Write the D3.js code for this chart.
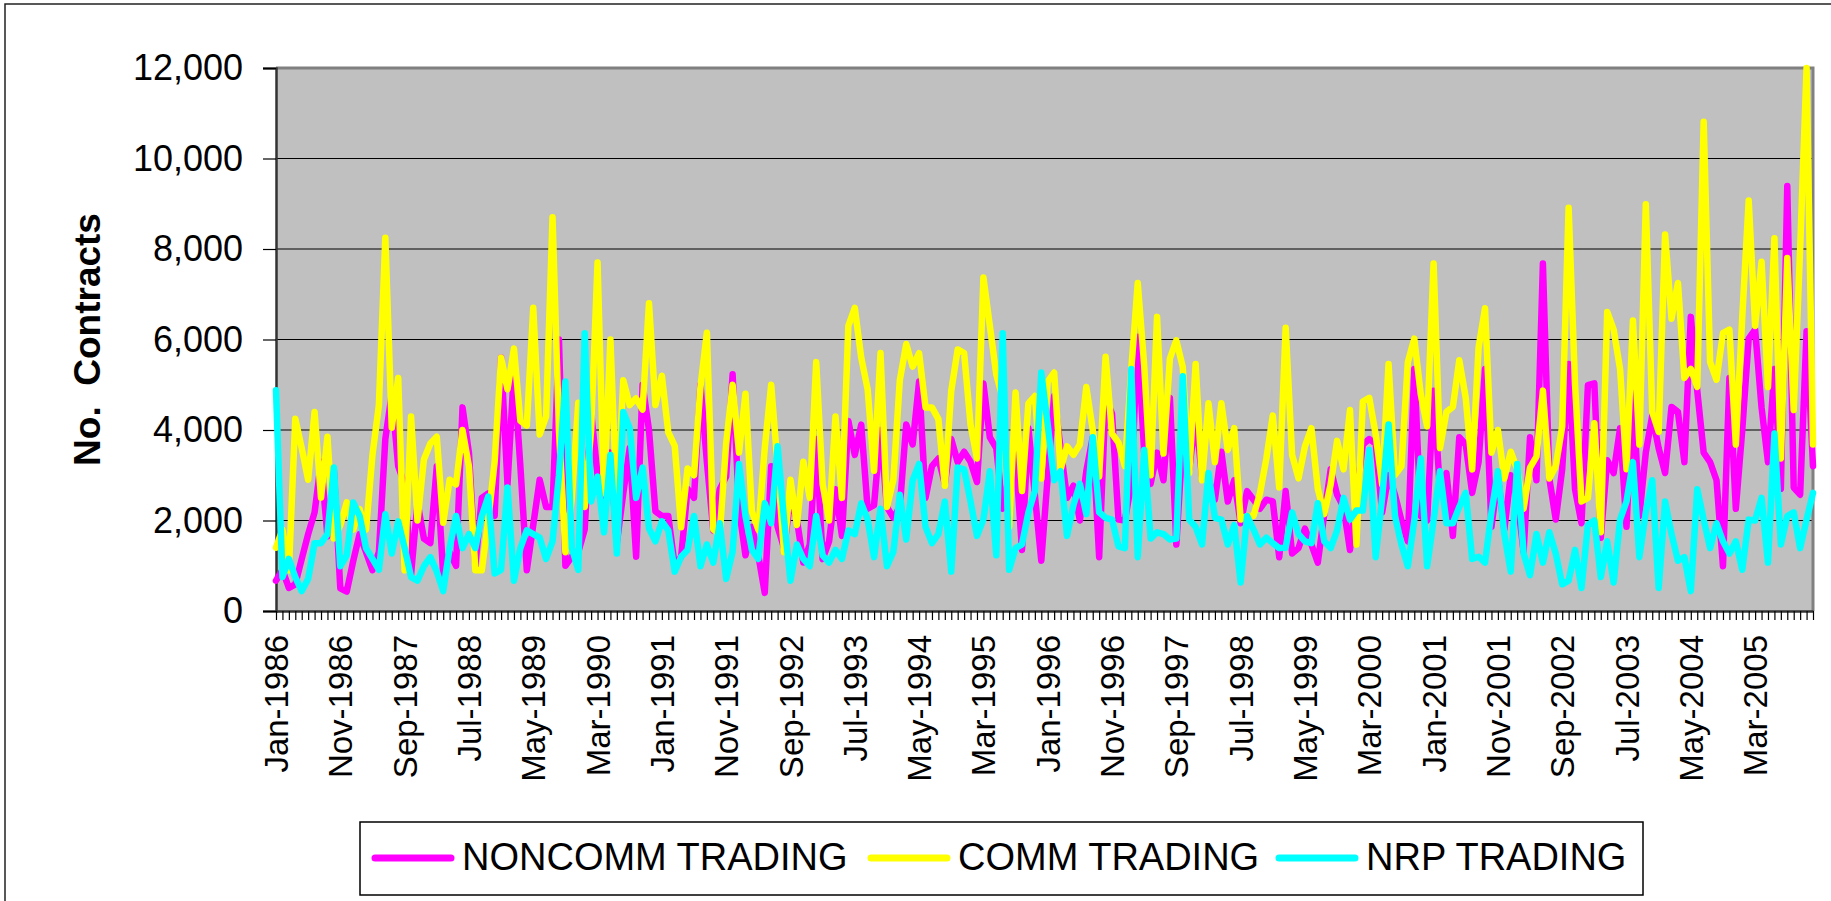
<!DOCTYPE html>
<html>
<head>
<meta charset="utf-8">
<script src="https://cdn.jsdelivr.net/npm/d3@7"></script>
<style>
  body { margin: 0; background: #fff; }
  svg { display: block; font-family: "Liberation Sans", Arial, sans-serif; }
</style>
</head>
<body>
<svg id="chart" width="1831" height="901"></svg>
<script>
// monthly categories, Jan-1986 .. Dec-2005
var months = d3.timeMonths(new Date(1986, 0, 1), new Date(2006, 0, 1));

var tickLabels = ["Jan-1986", "Nov-1986", "Sep-1987", "Jul-1988", "May-1989", "Mar-1990",
    "Jan-1991", "Nov-1991", "Sep-1992", "Jul-1993", "May-1994", "Mar-1995", "Jan-1996",
    "Nov-1996", "Sep-1997", "Jul-1998", "May-1999", "Mar-2000", "Jan-2001", "Nov-2001",
    "Sep-2002", "Jul-2003", "May-2004", "Mar-2005"];

var yTicks = [0, 2000, 4000, 6000, 8000, 10000, 12000];

var seriesNames = ["NONCOMM TRADING", "COMM TRADING", "NRP TRADING"];
var seriesColors = ["#ff00ff", "#ffff00", "#00ffff"];

var noncomm = [
    670, 910, 510, 590, 1150, 1700, 2180, 3300, 1650, 3100, 500, 430, 1100, 1700, 1300, 900, 1300, 3800, 4800, 3200,
    2800, 800, 2400, 1600, 1500, 3200, 800, 1300, 1000, 4500, 3500, 1000, 2500, 2600,
    2100, 5600, 2800, 5300, 3200, 900, 1900, 2900, 2300, 2300, 6000, 1000, 1200, 1300, 1800, 4400, 3000, 2500, 3500, 1500,
    2600, 3600, 1200, 5000, 4000, 2200, 2100, 2100, 1000, 1200, 2700, 2500, 5000, 3300,
    1780, 2690, 2970, 5230, 2260, 1230, 1860, 1230, 400, 3200, 1860, 1390, 2500, 2020, 1070, 1470, 3800, 1150, 1540, 2690,
    1660, 4200, 3450, 4120, 2260, 2340, 4000, 2300, 2060, 2300, 4120, 3680, 5070, 2500,
    3200, 3370, 2810, 3800, 3290, 3520, 3300, 2850, 5030, 3840, 3600, 2260, 3000, 3480, 1350, 4040, 2570, 1110, 2970, 4750,
    3600, 2500, 2770, 2000, 3090, 3840, 1190, 4710, 4360, 2020, 2000, 2810, 6060, 3500,
    2810, 3500, 2890, 4710, 1470, 3800, 3130, 4300, 2970, 2900, 2460, 3520, 2420, 2890, 1940, 2650, 2460, 2260, 2460, 2420,
    1190, 2650, 1270, 1390, 1820, 1470, 1070, 2140, 3130, 2570, 2300, 1350, 2500, 3680, 3800,
    3700, 2180, 3000, 2570, 2000, 1540, 5350, 2100, 2000, 4870, 2650, 3050, 1660, 3840, 3680, 2610, 3290, 5350, 1860, 2970,
    1800, 3000, 2500, 1310, 3840, 2890, 7680, 2930, 2020, 3130, 5460, 2690, 1940, 4990,
    5030, 1620, 3330, 3050, 4040, 1860, 4910, 2100, 3500, 4320, 3600, 3050, 4510, 4400, 3290, 6500, 4870, 3500, 3290, 2890,
    990, 5150, 2260, 4000, 6020, 6220, 4500, 3290, 5350, 2700, 9390, 2730, 2570, 6180, 3200
];

var comm = [
    1400, 1800, 900, 4250, 3600, 2900, 4400, 2500, 3850, 1600, 1900, 2400, 1800, 2250, 1800, 3450, 4550, 8250, 4050, 5150,
    900, 4300, 2000, 3350, 3700, 3850, 1950, 2900, 2800, 4000, 3200, 900, 900, 2000,
    3300, 5600, 4900, 5800, 4200, 4100, 6700, 3900, 4300, 8700, 4000, 1300, 2500, 4600, 2300, 4000, 7700, 2600, 6000, 2300,
    5100, 4550, 4700, 4450, 6800, 4550, 5200, 3950, 3650, 1850, 3150, 3000, 4950, 6150,
    1800, 1700, 3700, 5000, 3500, 4800, 2200, 1800, 3600, 5000, 3200, 1300, 2900, 1900, 3300, 2500, 5500, 2800, 2000, 4300,
    2500, 6300, 6700, 5600, 4900, 3100, 5700, 2300, 2900, 5100, 5900, 5400, 5700, 4500,
    4500, 4240, 2770, 4870, 5780, 5700, 4120, 3370, 7370, 6300, 5230, 4700, 1860, 4830, 2650, 4590, 4750, 2930, 5070, 5270,
    3130, 3640, 3450, 3680, 4950, 4000, 2970, 5620, 3920, 3720, 3200, 5350, 7250, 5430,
    3000, 6500, 3480, 5580, 5980, 5390, 3050, 5460, 2890, 4590, 3290, 4590, 3560, 4040, 2020, 2100, 2100, 2600, 3370, 4320,
    2730, 6260, 3450, 2930, 3640, 4040, 2700, 2140, 2800, 3760, 3130, 4440, 1470, 4630, 4710,
    3900, 2800, 5460, 3010, 3200, 5500, 6020, 4800, 4080, 7680, 3600, 4400, 4510, 5540, 4710, 3130, 5820, 6690, 3500, 4000,
    2930, 3520, 3130, 2260, 3170, 3410, 4870, 2930, 3200, 4080, 8910, 5000, 2420, 2500,
    4150, 1740, 6610, 6220, 5350, 3130, 6420, 3680, 8990, 4400, 3960, 8320, 6460, 7250, 5150, 5350, 4950, 10810, 5500, 5110,
    6140, 6220, 3680, 6500, 9070, 6300, 7720, 4950, 8240, 3370, 7800, 4440, 8000, 12000, 3680
];

var nrp = [
    4880, 750, 1150, 750, 440, 710, 1500, 1500, 1700, 3170, 990, 1230, 2400, 2100, 1390, 1150, 910, 2140, 1270, 1980,
    1390, 750, 670, 990, 1190, 870, 440, 1390, 2100, 1390, 1700, 1390, 2100, 2530,
    830, 910, 2730, 670, 1390, 1780, 1700, 1620, 1150, 1540, 3000, 5070, 1390, 910, 6140, 2420, 2970, 1740, 3450, 1270,
    4400, 4040, 2500, 3170, 1820, 1540, 1980, 1780, 870, 1200, 1350, 2100, 990, 1470,
    1070, 1940, 710, 1310, 3250, 2100, 1350, 1150, 2380, 1940, 3640, 2020, 670, 1470, 1150, 990, 2100, 1230, 1070, 1350,
    1150, 1780, 1700, 2380, 2020, 1190, 2260, 990, 1310, 2570, 1580, 2890, 3250, 1860,
    1500, 1700, 2420, 870, 3170, 3130, 2420, 1660, 2020, 3090, 1230, 6140, 910, 1390, 1470, 2180, 2650, 5270, 4120, 2890,
    3090, 1660, 2340, 2810, 2140, 3840, 2180, 2060, 2020, 1430, 1390, 5350, 1190, 3560,
    1600, 1740, 1700, 1580, 1600, 5190, 2020, 1860, 1470, 3050, 2060, 2020, 1470, 1900, 630, 2100, 1800, 1470, 1620, 1500,
    1390, 1400, 2180, 1700, 1540, 1500, 2380, 1540, 1390, 1780, 2500, 2020, 2220, 2220, 3560,
    1190, 2500, 4120, 2100, 1470, 990, 2000, 3370, 990, 2000, 3090, 1940, 1940, 2300, 2610, 1150, 1200, 1070, 2180, 3090,
    1700, 870, 3250, 1270, 790, 1700, 1070, 1740, 1270, 590, 670, 1350, 510, 1900,
    2000, 750, 1540, 630, 2020, 2420, 3290, 1190, 2180, 2890, 510, 2420, 1700, 1110, 1190, 440, 2690, 2020, 1390, 1940,
    1540, 1270, 1540, 910, 2020, 2000, 2500, 1070, 3920, 1470, 2100, 2180, 1390, 2020, 2610
];

var series = [noncomm, comm, nrp];

var svg = d3.select("#chart");

var plot = {left: 276, right: 1813, top: 68, bottom: 611};

var x = d3.scaleLinear()
    .domain([0, months.length - 1])
    .range([plot.left, plot.right]);

var y = d3.scaleLinear()
    .domain([0, 12000])
    .range([plot.bottom, plot.top]);

// outer chart frame
svg.append("rect")
    .attr("x", 5).attr("y", 4)
    .attr("width", 1840).attr("height", 910)
    .attr("fill", "#fff")
    .attr("stroke", "#222")
    .attr("stroke-width", 1.5);

// plot area
svg.append("rect")
    .attr("x", plot.left).attr("y", plot.top)
    .attr("width", plot.right - plot.left)
    .attr("height", plot.bottom - plot.top)
    .attr("fill", "#c0c0c0");

// gridlines
svg.append("g")
    .selectAll("line")
    .data(yTicks.filter(function (d) { return d > 0 && d < 12000; }))
    .enter()
    .append("line")
    .attr("x1", plot.left).attr("x2", plot.right)
    .attr("y1", function (d) { return y(d); })
    .attr("y2", function (d) { return y(d); })
    .attr("stroke", "#000")
    .attr("stroke-width", 1);

// plot border (top / right)
svg.append("path")
    .attr("d", "M" + plot.left + "," + plot.top + "H" + plot.right + "V" + plot.bottom)
    .attr("fill", "none")
    .attr("stroke", "#808080")
    .attr("stroke-width", 3);

// y axis
var yAxis = svg.append("g")
    .attr("transform", "translate(" + plot.left + ",0)")
    .call(d3.axisLeft(y)
        .tickValues(yTicks)
        .tickSize(13)
        .tickPadding(20)
        .tickFormat(d3.format(",")));

yAxis.select(".domain").attr("stroke", "#333").attr("stroke-width", 2.5);
yAxis.selectAll(".tick line").attr("stroke", "#000").attr("stroke-width", 1.2);
yAxis.selectAll(".tick text")
    .attr("fill", "#000")
    .style("font-size", "36px")
    .style("font-family", "'Liberation Sans', Arial, sans-serif");

// x axis, a tick per month, label every 10 months
var xAxis = svg.append("g")
    .attr("transform", "translate(0," + plot.bottom + ")")
    .call(d3.axisBottom(x)
        .tickValues(d3.range(months.length))
        .tickSize(9)
        .tickSizeOuter(0)
        .tickFormat(function (d) {
            return d % 10 === 0 ? tickLabels[d / 10] : "";
        }));

xAxis.select(".domain").attr("stroke", "#333").attr("stroke-width", 2.5);
xAxis.selectAll(".tick line").attr("stroke", "#000").attr("stroke-width", 1.2);
xAxis.selectAll(".tick text")
    .attr("fill", "#000")
    .attr("transform", "rotate(-90)")
    .attr("text-anchor", "end")
    .attr("x", -24)
    .attr("y", 0)
    .attr("dy", "0.35em")
    .style("font-size", "33px")
    .style("font-family", "'Liberation Sans', Arial, sans-serif");

// y axis title
svg.append("text")
    .attr("transform", "translate(100," + ((plot.top + plot.bottom) / 2) + ") rotate(-90)")
    .attr("text-anchor", "middle")
    .attr("font-size", 37)
    .attr("font-weight", "bold")
    .attr("fill", "#000")
    .text("No.  Contracts")
    .attr("xml:space", "preserve")
    .style("white-space", "pre");

// series lines
var line = d3.line()
    .x(function (d, i) { return x(i); })
    .y(function (d) { return y(d); });

svg.append("g")
    .selectAll("path")
    .data(series)
    .enter()
    .append("path")
    .attr("d", line)
    .attr("fill", "none")
    .attr("stroke", function (d, i) { return seriesColors[i]; })
    .attr("stroke-width", 6.5)
    .attr("stroke-linejoin", "round")
    .attr("stroke-linecap", "round");

// legend
var legend = svg.append("g");

legend.append("rect")
    .attr("x", 360).attr("y", 822)
    .attr("width", 1283).attr("height", 73)
    .attr("fill", "#fff")
    .attr("stroke", "#000")
    .attr("stroke-width", 1.5);

var legendX = [375, 871, 1279];

var item = legend.selectAll(".item")
    .data(seriesNames)
    .enter()
    .append("g")
    .attr("class", "item")
    .attr("transform", function (d, i) { return "translate(" + legendX[i] + ",0)"; });

item.append("line")
    .attr("x1", 0).attr("x2", 76)
    .attr("y1", 858).attr("y2", 858)
    .attr("stroke", function (d, i) { return seriesColors[i]; })
    .attr("stroke-width", 7)
    .attr("stroke-linecap", "round");

item.append("text")
    .attr("x", 87)
    .attr("y", 870)
    .attr("font-size", 38)
    .attr("fill", "#000")
    .text(function (d) { return d; });
</script>
</body>
</html>
